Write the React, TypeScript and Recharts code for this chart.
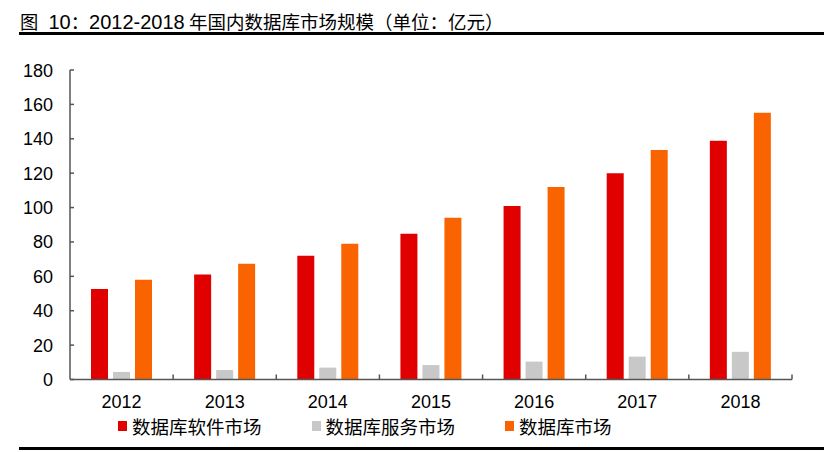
import React from "react";
import { Bar, BarChart, Legend, XAxis, YAxis } from "recharts";

const years = ["2012", "2013", "2014", "2015", "2016", "2017", "2018"];
const softwareMarket = [52.6, 61.0, 72.0, 84.8, 100.9, 120.0, 138.9];
const serviceMarket = [4.4, 5.5, 6.9, 8.4, 10.4, 13.3, 16.1];
const totalMarket = [58.0, 67.3, 79.0, 94.0, 112.0, 133.5, 155.2];
const yTicks = [0, 20, 40, 60, 80, 100, 120, 140, 160, 180];

const SERIES = [
  { key: "software", name: "数据库软件市场", color: "#E00000" },
  { key: "service", name: "数据库服务市场", color: "#C8C8C8" },
  { key: "total", name: "数据库市场", color: "#FA6400" }
];

const chartData = years.map((year, i) => ({
  year,
  software: softwareMarket[i],
  service: serviceMarket[i],
  total: totalMarket[i]
}));

const LATIN = '"Liberation Sans", Arial, "Noto Sans CJK SC", sans-serif';
const CJK = '"Noto Sans CJK SC", "Liberation Sans", sans-serif';
const AXIS_COLOR = "#555555";

// category ticks sit on band edges and point up into the plot
const XTick = (props: any) => {
  const { x, y, payload } = props;
  const half = payload?.offset ?? 51.5;
  return (
    <g>
      <line x1={x + half} y1={y} x2={x + half} y2={y - 5} stroke={AXIS_COLOR} strokeWidth={1.5} />
      <text x={x} y={y + 28.5} textAnchor="middle" fontSize={18} fontFamily={LATIN} fill="#000">
        {payload.value}
      </text>
    </g>
  );
};

const YTick = (props: any) => {
  const { x, y, payload } = props;
  return (
    <g>
      <line x1={x} y1={y} x2={x + 4} y2={y} stroke={AXIS_COLOR} strokeWidth={1.5} />
      <text x={x - 17} y={y + 6.5} textAnchor="end" fontSize={18} fontFamily={LATIN} fill="#000">
        {payload.value}
      </text>
    </g>
  );
};

const LegendContent = () => (
  <div style={{ display: "flex", alignItems: "center", fontFamily: CJK, fontSize: 18.5, color: "#000" }}>
    {SERIES.map((s) => (
      <div key={s.key} style={{ display: "flex", alignItems: "center", marginRight: 50 }}>
        <span style={{ width: 9, height: 10, background: s.color, marginRight: 5, display: "inline-block" }} />
        <span style={{ lineHeight: "24px" }}>{s.name}</span>
      </div>
    ))}
  </div>
);

export default function App() {
  return (
    <div style={{ position: "absolute", left: 0, top: 0, width: 824, height: 452, background: "#fff", overflow: "hidden" }}>
      <svg width={824} height={452} style={{ position: "absolute", left: 0, top: 0 }}>
        <text y={29} fill="#000">
          <tspan x={20} fontFamily={CJK} fontSize={18.3}>图</tspan>
          <tspan x={48.5} fontFamily={LATIN} fontSize={20}>10</tspan>
          <tspan fontFamily={CJK} fontSize={18.3}>：</tspan>
          <tspan fontFamily={LATIN} fontSize={20}>2012-2018</tspan>
          <tspan x={189} fontFamily={CJK} fontSize={18.5}>年国内数据库市场规模（单位：亿元）</tspan>
        </text>
        <rect x={19} y={32} width={805} height={3} fill="#000" />
        <rect x={19} y={447} width={805} height={3} fill="#000" />
      </svg>

      <BarChart
        width={824}
        height={452}
        data={chartData}
        margin={{ top: 70, right: 32, left: 0, bottom: 0 }}
        barSize={17}
        barGap={5}
        style={{ position: "absolute", left: 0, top: 0 }}
      >
        <XAxis
          dataKey="year"
          height={72.5}
          tickSize={0}
          tickMargin={0}
          tickLine={false}
          axisLine={{ stroke: AXIS_COLOR, strokeWidth: 1.5 }}
          tick={<XTick />}
          interval={0}
        />
        <YAxis
          width={70}
          domain={[0, 180]}
          ticks={yTicks}
          tickSize={0}
          tickMargin={0}
          tickLine={false}
          axisLine={{ stroke: AXIS_COLOR, strokeWidth: 1.5 }}
          tick={<YTick />}
          interval={0}
        />
        {SERIES.map((s) => (
          <Bar key={s.key} dataKey={s.key} name={s.name} fill={s.color} isAnimationActive={false} />
        ))}
        <Legend
          layout="horizontal"
          verticalAlign="middle"
          align="center"
          content={<LegendContent />}
          wrapperStyle={{ top: 414, left: 118, width: 700, height: 26 }}
        />
      </BarChart>
    </div>
  );
}
